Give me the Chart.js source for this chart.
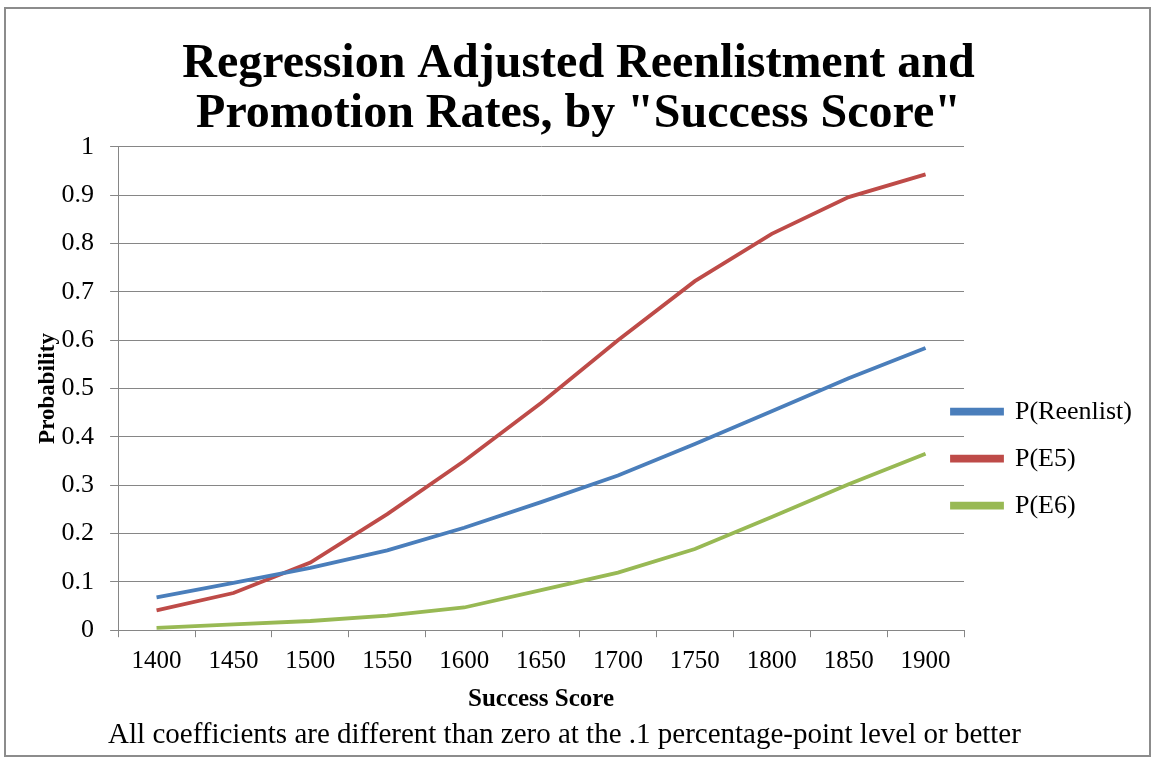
<!DOCTYPE html>
<html>
<head>
<meta charset="utf-8">
<script src="https://cdn.jsdelivr.net/npm/chart.js@4/dist/chart.umd.min.js"></script>
<style>
  html, body { margin: 0; padding: 0; background: #fff; }
  #wrap { position: relative; width: 1153px; height: 763px; }
</style>
</head>
<body>
<div id="wrap"><canvas id="chart"></canvas></div>
<script>
// Data
const scores = ['1400', '1450', '1500', '1550', '1600', '1650', '1700', '1750', '1800', '1850', '1900'];
const pReenlist = [0.068, 0.098, 0.129, 0.165, 0.212, 0.265, 0.32, 0.385, 0.453, 0.521, 0.584];
const pE5 = [0.041, 0.077, 0.14, 0.24, 0.35, 0.47, 0.6, 0.722, 0.82, 0.896, 0.943];
const pE6 = [0.005, 0.012, 0.019, 0.03, 0.047, 0.083, 0.119, 0.168, 0.234, 0.302, 0.365];
const seriesNames = ['P(Reenlist)', 'P(E5)', 'P(E6)'];
const titleLines = ['Regression Adjusted Reenlistment and', 'Promotion Rates, by "Success Score"'];
const footnote = 'All coefficients are different than zero at the .1 percentage-point level or better';

const SERIF = '"Liberation Serif", "Times New Roman", serif';
const gridGray = '#868686';

Chart.defaults.font.family = SERIF;
Chart.defaults.color = '#000';

// outer frame like the pasted slide image
const framePlugin = {
    id: 'frame',
    beforeDraw(chart) {
        const ctx = chart.ctx;
        ctx.save();
        ctx.fillStyle = '#fff';
        ctx.fillRect(0, 0, chart.width, chart.height);
        ctx.strokeStyle = '#8c8c8c';
        ctx.lineWidth = 2;
        ctx.strokeRect(5, 8, chart.width - 8, chart.height - 15);
        ctx.restore();
    }
};

// Excel puts the legend keys a bit into the plot's right margin,
// and the footnote sits a little left of centre
const nudges = {
    id: 'nudges',
    afterLayout(chart) {
        if (chart.legend) {
            chart.legend.left -= 33;
        }
        const sub = chart.boxes.find(b => b !== chart.titleBlock && b.options && b.options.position === 'bottom' && b.options.text === footnote);
        if (sub) {
            sub.left -= 14;
            sub.right -= 14;
        }
    }
};

function makeSet(label, data, color) {
    return {
        label: label,
        data: data,
        borderColor: color,
        backgroundColor: color,
        borderWidth: 3.8,
        pointRadius: 0,
        tension: 0,
        fill: false
    };
}

const ctx = document.getElementById('chart').getContext('2d');
new Chart(ctx, {
    type: 'line',
    data: {
        labels: scores,
        datasets: [
            makeSet(seriesNames[0], pReenlist, '#4a7ebb'),
            makeSet(seriesNames[1], pE5, '#be4b48'),
            makeSet(seriesNames[2], pE6, '#98b954')
        ]
    },
    options: {
        responsive: true,
        maintainAspectRatio: false,
        animation: false,
        layout: { padding: { top: 39, right: 6, bottom: 10, left: 10 } },
        scales: {
            x: {
                offset: true,
                grid: { offset: true, drawOnChartArea: false, drawTicks: true, tickLength: 7, color: gridGray },
                border: { color: gridGray },
                ticks: { font: { size: 25 }, padding: 9, maxRotation: 0, autoSkip: false },
                title: {
                    display: true,
                    text: 'Success Score',
                    font: { size: 25, weight: 'bold' },
                    padding: { top: -1, bottom: 0 }
                }
            },
            y: {
                min: 0,
                max: 1,
                ticks: {
                    stepSize: 0.1,
                    font: { size: 26 },
                    padding: 16,
                    callback: (v) => String(Number(v.toFixed(1)))
                },
                grid: { color: gridGray, tickLength: 8 },
                border: { color: gridGray },
                title: {
                    display: true,
                    text: 'Probability',
                    font: { size: 23, weight: 'bold' },
                    padding: { top: 24, bottom: -16 }
                }
            }
        },
        plugins: {
            title: {
                display: true,
                text: titleLines,
                font: { size: 48, weight: 'bold', lineHeight: 1.05 },
                padding: { top: 0, bottom: 7 }
            },
            subtitle: {
                display: true,
                position: 'bottom',
                text: footnote,
                font: { size: 29 },
                padding: { top: 4, bottom: 0 }
            },
            legend: {
                position: 'right',
                fullSize: false,
                maxWidth: 183,
                title: { display: true, text: '', padding: { top: 126, bottom: 0 } },
                labels: {
                    boxWidth: 50,
                    boxHeight: 4,
                    padding: 21,
                    font: { size: 26 }
                }
            },
            tooltip: { enabled: false }
        }
    },
    plugins: [framePlugin, nudges]
});
</script>
</body>
</html>
